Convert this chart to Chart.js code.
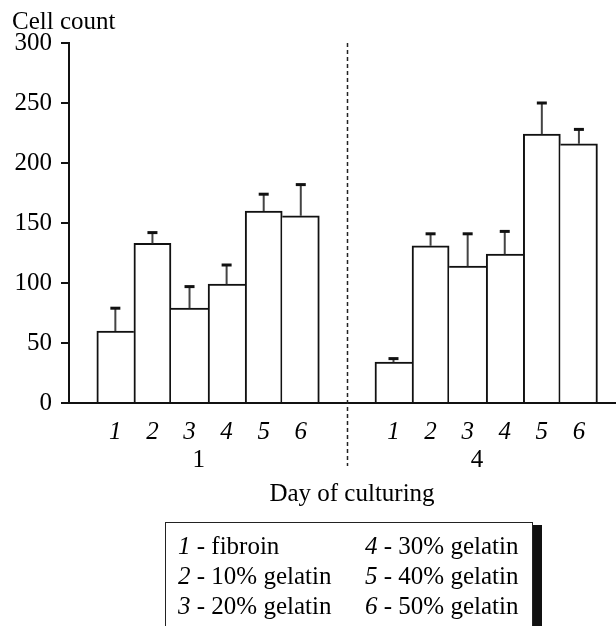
<!DOCTYPE html>
<html>
<head>
<meta charset="utf-8">
<script src="https://cdn.jsdelivr.net/npm/chart.js@4"></script>
<style>
  body { margin: 0; background: #fff; overflow: hidden; }
  #wrap { position: relative; width: 616px; height: 626px; }
  #legenda {
    position: absolute; left: 165px; top: 522px; width: 368px; height: 130px;
    box-sizing: border-box; border: 1.5px solid #222; box-shadow: 9px 3px 0 #111;
    background: #fff; padding: 8px 0 0 12px;
    font-family: "Liberation Serif", serif; font-size: 25px; line-height: 30px; color: #000;
    display: grid; grid-template-rows: repeat(3, 30px); grid-auto-flow: column; grid-template-columns: 187px auto;
  }
  #legenda i { font-style: italic; }
</style>
</head>
<body>
<div id="wrap">
  <canvas id="grafico"></canvas>
  <div id="legenda"></div>
</div>
<script>
// dados
const barLabels = ["1", "2", "3", "4", "5", "6"];
const days = ["1", "4"];
const materials = ["fibroin", "10% gelatin", "20% gelatin", "30% gelatin", "40% gelatin", "50% gelatin"];
const day1Counts = [60, 133, 79, 99, 160, 156];
const day1Sd = [19, 9, 18, 16, 14, 26];
const day4Counts = [34, 131, 114, 124, 224, 216];
const day4Sd = [3, 10, 27, 19, 26, 12];

// posicoes no eixo x (dia 4 depois de um intervalo)
const gap = 2.5;
const xPos = barLabels.map((_, i) => i + 1).concat(barLabels.map((_, i) => i + 1 + barLabels.length + gap - 1));
const counts = day1Counts.concat(day4Counts);
const sds = day1Sd.concat(day4Sd);
const divider = (xPos[5] + xPos[6]) / 2;

const fonte = "Liberation Serif";

// legenda em HTML
document.getElementById("legenda").innerHTML = materials
  .map((m, i) => `<div><i>${barLabels[i]}</i> - ${m}</div>`).join("");

// borda so onde a barra vizinha nao cobre
function bordas(c) {
  const i = c.dataIndex, k = i % 6;
  const esq = k === 0 || counts[i - 1] <= counts[i];
  const dir = k === 5 || counts[i + 1] < counts[i];
  return { top: 2, bottom: 0, left: esq ? 2 : 0, right: dir ? 2 : 0 };
}

const extras = {
  id: "extras",
  afterDraw(chart) {
    const ctx = chart.ctx, xs = chart.scales.x, ys = chart.scales.y;
    const meta = chart.getDatasetMeta(0);
    ctx.save();
    // barras de erro (so para cima)
    meta.data.forEach((bar, i) => {
      const top = ys.getPixelForValue(counts[i] + sds[i]);
      ctx.strokeStyle = "#444";
      ctx.lineWidth = 2;
      ctx.beginPath();
      ctx.moveTo(bar.x, bar.y);
      ctx.lineTo(bar.x, top);
      ctx.stroke();
      ctx.strokeStyle = "#111";
      ctx.lineWidth = 3;
      ctx.beginPath();
      ctx.moveTo(bar.x - 5, top);
      ctx.lineTo(bar.x + 5, top);
      ctx.stroke();
    });
    // linha tracejada entre os dias
    const xd = Math.round(xs.getPixelForValue(divider)) + 0.5;
    ctx.strokeStyle = "#222";
    ctx.lineWidth = 1.5;
    ctx.setLineDash([4, 3]);
    ctx.beginPath();
    ctx.moveTo(xd, ys.top);
    ctx.lineTo(xd, 466);
    ctx.stroke();
    ctx.setLineDash([]);
    // textos
    ctx.fillStyle = "#000";
    ctx.font = `25px "${fonte}"`;
    ctx.textBaseline = "alphabetic";
    ctx.textAlign = "left";
    ctx.fillText("Cell count", 12, 29);
    ctx.textAlign = "center";
    ctx.fillText(days[0], xs.getPixelForValue(3.25), 467);
    ctx.fillText(days[1], xs.getPixelForValue(10.75), 467);
    ctx.fillText("Day of culturing", 352, 501);
    ctx.restore();
  }
};

new Chart(document.getElementById("grafico"), {
  type: "bar",
  data: {
    datasets: [{
      data: xPos.map((x, i) => ({ x: x, y: counts[i] })),
      backgroundColor: "#fff",
      borderColor: "#111",
      borderWidth: bordas,
      barPercentage: 1,
      categoryPercentage: 1
    }]
  },
  options: {
    responsive: true,
    maintainAspectRatio: false,
    animation: false,
    layout: { padding: { top: 43, left: 0, right: 0, bottom: 0 } },
    plugins: { legend: { display: false }, tooltip: { enabled: false } },
    scales: {
      x: {
        type: "linear",
        min: -0.25,
        max: 14.5,
        offset: false,
        afterBuildTicks: s => { s.ticks = xPos.map(v => ({ value: v })); },
        ticks: {
          color: "#000",
          font: { family: fonte, size: 25, style: "italic" },
          padding: 6,
          autoSkip: false,
          maxRotation: 0,
          callback: (v, i) => barLabels[i % barLabels.length]
        },
        grid: { display: false },
        border: { display: true, color: "#111", width: 2 },
        afterFit: s => { s.height = 223; }
      },
      y: {
        min: 0,
        max: 300,
        ticks: { stepSize: 50, color: "#000", font: { family: fonte, size: 25 }, padding: 9 },
        grid: { drawOnChartArea: false, drawTicks: true, tickLength: 8, color: "#111", lineWidth: 2 },
        border: { display: true, color: "#111", width: 2 },
        afterFit: s => { s.width = 69; }
      }
    }
  },
  plugins: [extras]
});
</script>
</body>
</html>
